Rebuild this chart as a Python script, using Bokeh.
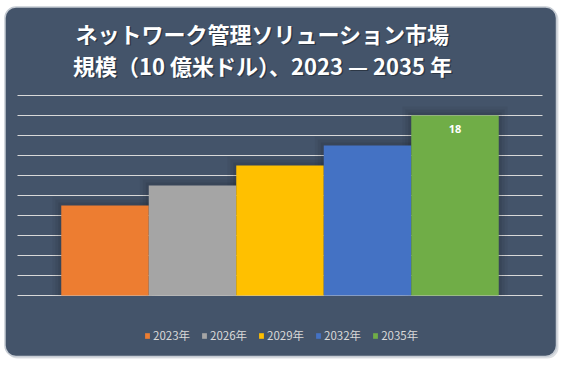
from bokeh.plotting import figure
from bokeh.models import ColumnDataSource, Range1d, Legend, LegendItem
from bokeh.embed import file_html
from bokeh.resources import INLINE
from bokeh.core.properties import value

# ---- data ----
years = ["2023年", "2026年", "2029年", "2032年", "2035年"]
market_size = [9.0, 11.0, 13.0, 15.0, 18.0]
bar_colors = ["#ED7D31", "#A5A5A5", "#FFC000", "#4472C4", "#70AD47"]
show_label = [False, False, False, False, True]
y_ticks = [0, 2, 4, 6, 8, 10, 12, 14, 16, 18, 20]
title_line1 = "ネットワーク管理ソリューション市場"
title_line2 = "規模（10 億米ドル）、2023 — 2035 年"

PANEL = "#44546A"
GRID = "#D9D9D9"
CJK = "Noto Sans CJK JP"

W, H = 564, 365
# plot-area placement on the canvas (pixels)
PA_LEFT, PA_RIGHT, PA_TOP, PA_BOTTOM = 17, 542, 95, 295
n = len(years)
x_lo, x_hi = 0, n + 1
y_lo, y_hi = 0, 20
ux = (PA_RIGHT - PA_LEFT) / (x_hi - x_lo)   # px per x unit
uy = (PA_BOTTOM - PA_TOP) / (y_hi - y_lo)   # px per y unit


def dx(px):
    return x_lo + (px - PA_LEFT) / ux


def dy(py):
    return y_lo + (PA_BOTTOM - py) / uy


p = figure(width=W, height=H, x_range=Range1d(dx(0), dx(W)), y_range=Range1d(dy(H), dy(0)),
           output_backend="svg", toolbar_location=None,
           x_axis_location=None, y_axis_location=None, min_border=0,
           background_fill_color="white", border_fill_color="white", outline_line_color=None)
p.xgrid.visible = False
p.ygrid.visible = False

# panel (with faint drop shadow)
p.quad(left=dx(6), right=dx(558), top=dy(8), bottom=dy(358), border_radius=11,
       fill_color="#9AA3AE", fill_alpha=0.35, line_color=None)
p.quad(left=dx(4.5), right=dx(556), top=dy(6.5), bottom=dy(356), border_radius=11,
       fill_color=PANEL, line_color="#C5CBD3", line_width=1.5)

# gridlines
p.segment(x0=[x_lo] * len(y_ticks), x1=[x_hi] * len(y_ticks), y0=y_ticks, y1=y_ticks,
          line_color=GRID, line_width=1)

xs = [i + 1 for i in range(n)]
src = ColumnDataSource(dict(x=xs, top=market_size, color=bar_colors, year=years))

# soft shadow around bars
for e, a in [(9, 0.04), (6, 0.05), (3, 0.07)]:
    p.vbar(x=xs, top=[v + e / uy for v in market_size], bottom=0,
           width=1 + 2 * e / ux, fill_color="black", fill_alpha=a, line_color=None)

r = p.vbar(x="x", top="top", width=1.0, bottom=0, fill_color="color", line_color=None, source=src)

# data label
lab_x = [x for x, s in zip(xs, show_label) if s]
lab_v = [v for v, s in zip(market_size, show_label) if s]
p.text(x=lab_x, y=[v - 13 / uy for v in lab_v], text=[f"{v:g}" for v in lab_v],
       text_align="center", text_baseline="middle", text_color="white",
       text_font=value("Noto Sans"), text_font_style="bold", text_font_size="11px")

# title with shadow
for ox, oy, col, alpha in [(1.5, 1.5, "black", 0.35), (0, 0, "white", 1.0)]:
    for txt, py in [(title_line1, 32), (title_line2, 64)]:
        p.text(x=[dx(262 + ox)], y=[dy(py + oy)], text=[txt],
               text_align="center", text_baseline="middle", text_color=col,
               text_alpha=alpha, text_font=value(CJK), text_font_style="bold",
               text_font_size="22px")

items = [LegendItem(label=years[i], renderers=[r], index=i) for i in range(n)]
legend = Legend(items=items, location=(144, H - 343), orientation="horizontal",
                background_fill_alpha=0, border_line_color=None,
                label_text_color=GRID, label_text_font=CJK, label_text_font_size="11.5px",
                glyph_width=6, glyph_height=7, label_standoff=3, spacing=11,
                padding=0, margin=0, label_height=13)
p.add_layout(legend)

open("out.html", "w").write(file_html(p, INLINE))
